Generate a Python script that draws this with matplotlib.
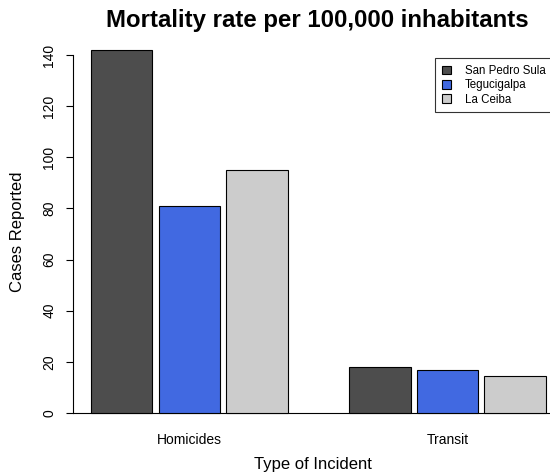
import numpy as np
import matplotlib.pyplot as plt

categories = ["Homicides", "Transit"]
cities = ["San Pedro Sula", "Tegucigalpa", "La Ceiba"]
san_pedro = [142, 17.8]
tegucigalpa = [81, 16.8]
la_ceiba = [95, 14.5]
colors = ["#4d4d4d", "#4169e1", "#cccccc"]

plt.rcParams["font.family"] = ["Liberation Sans", "DejaVu Sans"]

W, H = 550, 476
fig = plt.figure(figsize=(W / 100, H / 100), dpi=100)
# plot region in pixels (R style barplot, right edge runs past the image)
left, right, top, bottom = 72.8, 564, 35.4, 427.5
ax = fig.add_axes([left / W, 1 - bottom / H, (right - left) / W, (bottom - top) / H])

# bar layout like barplot(beside=TRUE, space=c(0.1, 1))
series = [san_pedro, tegucigalpa, la_ceiba]
lefts = []
pos = 0.0
for g in range(len(categories)):
    pos += 1.0
    row = []
    for i in range(len(series)):
        if i > 0:
            pos += 0.1
        row.append(pos)
        pos += 1.0
    lefts.append(row)
lefts = np.array(lefts)

for i, vals in enumerate(series):
    ax.bar(lefts[:, i], vals, width=1.0, align="edge", color=colors[i],
           edgecolor="black", linewidth=0.8, label=cities[i], zorder=2)

ax.axhline(0, color="black", lw=0.8, zorder=1)
xmin, xmax = lefts.min(), lefts.max() + 1
pad = 0.04 * (xmax - xmin)
ax.set_xlim(xmin - pad, xmax + pad)
ymax = max(max(s) for s in series)
ax.set_ylim(-0.04 * ymax, ymax * 1.04)

for s in ["top", "right", "bottom"]:
    ax.spines[s].set_visible(False)
ax.spines["left"].set_bounds(0, 140)
ax.spines["left"].set_linewidth(0.8)
ax.set_yticks(np.arange(0, 141, 20))
ax.tick_params(axis="y", length=5, width=0.8, pad=7, labelsize=10)
for t in ax.get_yticklabels():
    t.set_rotation(90)
    t.set_va("center")

centers = lefts.min(axis=1) + (lefts.max(axis=1) + 1 - lefts.min(axis=1)) / 2
ax.set_xticks(centers)
ax.set_xticklabels(categories)
ax.tick_params(axis="x", length=0, pad=4, labelsize=10)

fig.text(317 / W, 1 - 21 / H, "Mortality rate per 100,000 inhabitants",
         ha="center", va="center", fontsize=17.3, fontweight="bold")
fig.text(313 / W, 1 - 465 / H, "Type of Incident", ha="center", va="center", fontsize=12)
fig.text(18 / W, 1 - 232 / H, "Cases Reported", ha="center", va="center",
         rotation=90, fontsize=12)

leg = ax.legend(loc="upper left", bbox_to_anchor=(435 / W, 1 - 58 / H),
                bbox_transform=fig.transFigure, borderaxespad=0, fontsize=8.3,
                fancybox=False, handlelength=0.8, handleheight=0.8,
                handletextpad=1.2, labelspacing=0.2, borderpad=0.6)
leg.get_frame().set_edgecolor("black")
leg.get_frame().set_linewidth(0.8)

fig.savefig("out.png", dpi=100)
